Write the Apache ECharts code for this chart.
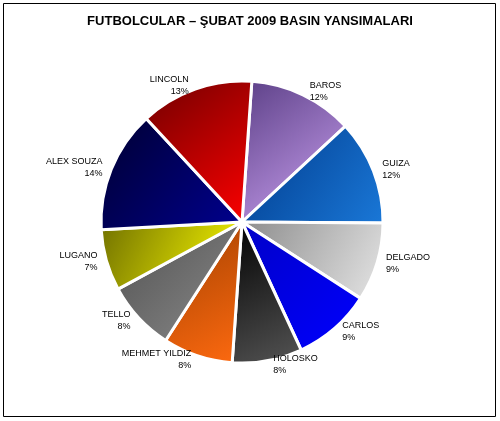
<!DOCTYPE html>
<html>
<head>
<meta charset="utf-8" />
<script src="https://cdn.jsdelivr.net/npm/echarts@6/dist/echarts.min.js"></script>
<style>html,body{margin:0;padding:0;background:#fff}#chart{width:500px;height:421px}</style>
</head>
<body>
<div id="chart"></div>
<script>
var names = ['BAROS', 'GUIZA', 'DELGADO', 'CARLOS', 'HOLOSKO', 'MEHMET YILDIZ', 'TELLO', 'LUGANO', 'ALEX SOUZA', 'LINCOLN'];
var values = [12, 12, 9, 9, 8, 8, 8, 7, 14, 13];
var colorsA = ['#5b3f86', '#003a8a', '#8c8c8c', '#0000c8', '#000000', '#a04000', '#505050', '#707000', '#000030', '#700000'];
var colorsB = ['#cfa5f5', '#1a78d8', '#e6e6e6', '#0000ff', '#555555', '#ff6a10', '#8c8c8c', '#ffff00', '#000090', '#ff0000'];

var chart = echarts.init(document.getElementById('chart'));
var data = names.map(function (n, i) {
  return {
    name: n, value: values[i],
    itemStyle: { color: new echarts.graphic.LinearGradient(0, 0, 1, 1, [
      { offset: 0, color: colorsA[i] }, { offset: 1, color: colorsB[i] }]) }
  };
});
chart.setOption({
  backgroundColor: '#fff',
  animation: false,
  title: {
    text: 'FUTBOLCULAR – ŞUBAT 2009 BASIN YANSIMALARI',
    left: 'center', top: 10,
    textStyle: { fontFamily: 'Liberation Sans', fontSize: 13, fontWeight: 'bold', color: '#000' }
  },
  graphic: [{ type: 'rect', shape: { x: 3.5, y: 3.5, width: 492, height: 413 },
    style: { fill: 'none', stroke: '#000', lineWidth: 1 } }],
  series: [{
    type: 'pie',
    center: [242, 222],
    radius: [0, 141],
    startAngle: 86,
    clockwise: true,
    itemStyle: { borderColor: '#fff', borderWidth: 3 },
    label: {
      show: true, position: 'outside', formatter: '{b}\n{d}%',
      fontFamily: 'Liberation Sans', fontSize: 9, color: '#000', lineHeight: 12, align: 'center'
    },
    labelLine: { show: false, length: 4, length2: 0 },
    data: data
  }]
});
</script>
</body>
</html>
